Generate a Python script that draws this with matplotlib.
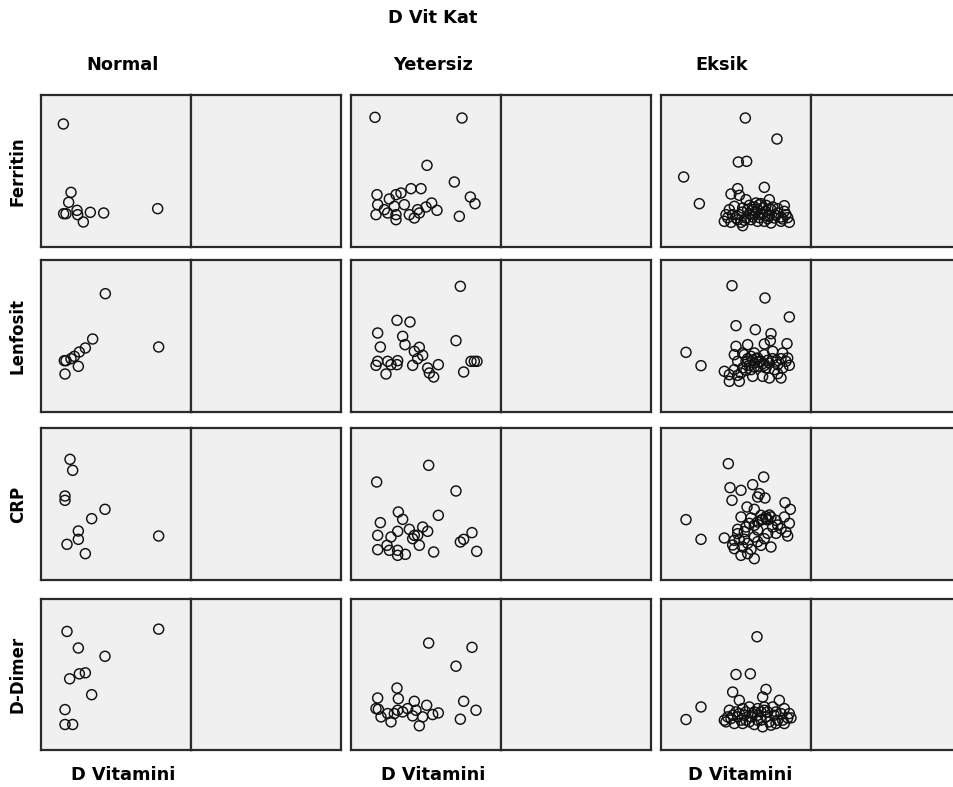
import matplotlib.pyplot as plt

# D Vitamini (x) vs. marker values (y), arbitrary units
rows = ['Ferritin', 'Lenfosit', 'CRP', 'D-Dimer']
groups = ['Normal', 'Yetersiz', 'Eksik']

# ---- Normal ----
n_fer_x = [67, 90, 83, 68, 75, 108, 110, 127, 148, 188, 350]
n_fer_y = [369, 164, 134, 100, 100, 110, 97, 75, 104, 102, 115]
n_len_x = [193, 155, 133, 115, 100, 90, 75, 70, 112, 72, 353]
n_len_y = [355, 219, 192, 180, 167, 160, 154, 154, 137, 114, 195]
n_crp_x = [87, 95, 72, 72, 192, 152, 112, 112, 78, 133, 353]
n_crp_y = [362, 329, 252, 239, 212, 184, 147, 122, 107, 79, 132]
n_dd_x = [78, 112, 192, 353, 86, 115, 133, 152, 72, 72, 95]
n_dd_y = [358, 308, 283, 365, 215, 230, 233, 167, 122, 77, 77]

# ---- Yetersiz ----
y_fer_x = [72, 333, 228, 310, 78, 80, 115, 135, 150, 180, 210, 75, 100, 130,
           135, 135, 160, 175, 190, 200, 225, 242, 258, 325, 358, 372, 205, 110]
y_fer_y = [389, 387, 245, 195, 157, 127, 144, 157, 162, 175, 175, 97, 112, 122,
           97, 82, 127, 97, 87, 112, 120, 132, 110, 92, 150, 130, 102, 102]
y_len_x = [328, 138, 177, 80, 155, 315, 88, 162, 205, 190, 215, 200, 80, 75,
           110, 140, 138, 185, 105, 230, 235, 248, 262, 338, 360, 370, 378, 120]
y_len_y = [377, 275, 270, 237, 227, 214, 195, 202, 194, 182, 170, 160, 152, 140,
           152, 154, 142, 140, 114, 132, 117, 105, 142, 120, 152, 152, 152, 142]
y_crp_x = [233, 77, 315, 142, 155, 262, 88, 80, 120, 140, 175, 185, 200, 215,
           230, 205, 80, 108, 115, 140, 140, 163, 248, 328, 338, 363, 377, 190]
y_crp_y = [344, 294, 267, 204, 182, 194, 172, 134, 129, 146, 152, 124, 134, 159,
           146, 104, 91, 104, 89, 89, 74, 77, 84, 114, 122, 142, 86, 134]
y_dd_x = [233, 363, 315, 138, 80, 142, 190, 227, 338, 375, 328, 75, 90, 120,
          110, 140, 155, 170, 185, 205, 215, 245, 262, 82, 130, 195]
y_dd_y = [323, 310, 253, 187, 157, 155, 147, 135, 147, 120, 93, 125, 100, 85,
          110, 120, 115, 125, 103, 73, 100, 107, 112, 123, 110, 120]

# ---- Eksik ----
e_fer_x = [253, 348, 232, 257, 68, 115, 310, 230, 210, 235, 255, 285, 325, 370,
           220, 245, 260, 290, 305, 330, 350, 375, 195, 215, 235, 280, 300, 320,
           340, 365, 385, 190, 210, 240, 245, 270, 290, 310, 330, 360, 225, 255,
           275, 315, 295, 370, 205,
           265, 280, 300, 315, 335, 350, 245, 265, 285, 305, 325, 345, 360, 200,
           230, 250, 275, 295, 320, 380]
e_fer_y = [387, 324, 255, 257, 210, 130, 179, 175, 159, 155, 142, 132, 142, 124,
           122, 117, 112, 112, 117, 112, 102, 97, 97, 97, 97, 97, 97, 92,
           87, 84, 74, 77, 74, 74, 64, 82, 77, 77, 72, 77, 87, 87,
           112, 107, 127, 107, 112,
           125, 120, 130, 125, 120, 115, 105, 100, 105, 100, 95, 95, 90, 88,
           82, 80, 90, 88, 85, 88]
e_len_x = [213, 312, 385, 225, 283, 330, 75, 120, 378, 225, 260, 310, 328, 245,
           270, 290, 310, 335, 365, 380, 375, 230, 255, 280, 300, 325, 350, 190,
           205, 220, 245, 270, 290, 315, 340, 365, 205, 235, 275, 305, 325, 360,
           250, 280, 220, 240,
           260, 275, 285, 295, 305, 320, 335, 265, 280, 310, 345, 360, 255, 230,
           350, 385]
e_len_y = [379, 342, 285, 259, 247, 235, 179, 139, 205, 197, 202, 204, 214, 177,
           167, 162, 172, 182, 177, 162, 152, 152, 152, 147, 152, 147, 142, 122,
           112, 127, 132, 127, 137, 132, 127, 132, 92, 92, 107, 107, 102, 102,
           172, 177, 172, 117,
           160, 155, 160, 150, 145, 155, 160, 140, 135, 140, 150, 160, 125, 110,
           115, 140]
e_crp_x = [202, 308, 207, 240, 275, 213, 75, 120, 290, 312, 295, 372, 388, 258,
           280, 240, 270, 300, 315, 330, 345, 370, 230, 255, 280, 335, 360, 375,
           380, 190, 220, 250, 280, 310, 220, 245, 270, 300, 330, 240, 260, 280,
           230, 290, 305,
           315, 320, 300, 325, 265, 250, 290, 320, 345, 260, 290, 235, 215, 350,
           385]
e_crp_y = [349, 309, 277, 269, 286, 239, 181, 122, 249, 246, 259, 232, 212, 219,
           212, 189, 186, 194, 184, 189, 179, 189, 152, 159, 164, 159, 154, 144,
           132, 126, 119, 122, 129, 124, 94, 99, 92, 104, 99, 74, 79, 64,
           139, 174, 182,
           190, 180, 180, 195, 170, 145, 150, 140, 140, 110, 115, 120, 105, 165,
           170]
e_dd_x = [288, 225, 268, 215, 315, 120, 75, 305, 355, 235, 205, 225, 245, 265,
          290, 310, 335, 370, 190, 210, 230, 250, 270, 290, 315, 340, 380, 195,
          220, 245, 280, 305, 330, 370, 390, 255, 300, 350,
          215, 235, 255, 280, 300, 320, 345, 360, 385, 200, 240, 265, 290, 325,
          345, 365, 310, 275]
e_dd_y = [342, 228, 230, 175, 183, 130, 92, 160, 150, 150, 120, 115, 125, 130,
          125, 130, 130, 125, 90, 95, 100, 105, 100, 105, 100, 105, 97, 85,
          80, 80, 77, 70, 75, 80, 97, 90, 90, 90,
          105, 110, 115, 115, 115, 115, 115, 110, 110, 100, 90, 85, 90, 85,
          80, 90, 120, 110]

data = [
    [(n_fer_x, n_fer_y), (y_fer_x, y_fer_y), (e_fer_x, e_fer_y)],
    [(n_len_x, n_len_y), (y_len_x, y_len_y), (e_len_x, e_len_y)],
    [(n_crp_x, n_crp_y), (y_crp_x, y_crp_y), (e_crp_x, e_crp_y)],
    [(n_dd_x, n_dd_y), (y_dd_x, y_dd_y), (e_dd_x, e_dd_y)],
]

W, H = 954, 787
fig = plt.figure(figsize=(W / 100, H / 100), dpi=100)
fig.patch.set_facecolor('white')

row_px = [(95, 247), (260, 412), (428, 580), (599, 750)]
group_left = [41, 351, 661]
pw = 150

def style(ax):
    ax.set_facecolor('#f0f0f0')
    ax.set_xticks([])
    ax.set_yticks([])
    for s in ax.spines.values():
        s.set_linewidth(1.6)
        s.set_color('#2a2a2a')

for r, (top, bot) in enumerate(row_px):
    for g, gl in enumerate(group_left):
        rect = [gl / W, 1 - bot / H, pw / W, (bot - top) / H]
        ax = fig.add_axes(rect)
        style(ax)
        x, y = data[r][g]
        ax.scatter(x, y, s=52, facecolors='none', edgecolors='#111111',
                   linewidths=1.05)
        ax.set_xlim(0, 450)
        ax.set_ylim(0, 456)
        # empty companion panel (last one runs off the right edge)
        w2 = pw + 20 if g == 2 else pw
        ax2 = fig.add_axes([(gl + pw) / W, 1 - bot / H, w2 / W, (bot - top) / H])
        style(ax2)
    fig.text(18 / W, 1 - (top + bot) / 2 / H, rows[r], rotation=90,
             ha='center', va='center', fontsize=12, fontweight='bold')

fig.text(433 / W, 1 - 18 / H, 'D Vit Kat', ha='center', va='center',
         fontsize=12.8, fontweight='bold')
head_x = [123, 433, 722]
foot_x = [123, 433, 740]
for g in range(3):
    fig.text(head_x[g] / W, 1 - 65 / H, groups[g], ha='center', va='center',
             fontsize=12.8, fontweight='bold')
    fig.text(foot_x[g] / W, 1 - 775 / H, 'D Vitamini', ha='center', va='center',
             fontsize=12.8, fontweight='bold')

fig.savefig('out.png', dpi=100)
